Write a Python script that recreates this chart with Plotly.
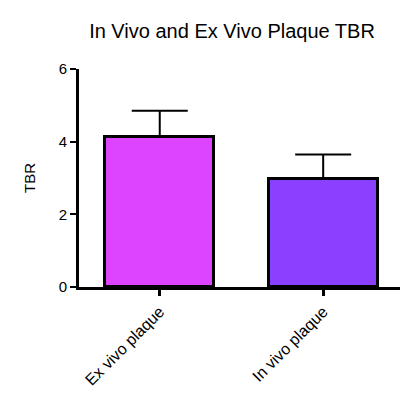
import plotly.graph_objects as go

categories = ["Ex vivo plaque", "In vivo plaque"]
means = [4.13, 2.97]
errors = [0.72, 0.68]
bar_colors = ["#DD44FF", "#8B3FFF"]
y_ticks = [0, 2, 4, 6]

fig = go.Figure()
fig.add_trace(go.Bar(
    x=[0, 1], y=means,
    width=0.665,
    marker=dict(color=bar_colors, line=dict(color="black", width=3)),
    error_y=dict(type="data", array=errors, arrayminus=[0, 0], symmetric=False,
                 color="black", thickness=2, width=28),
))

fig.update_layout(
    width=412, height=386,
    margin=dict(l=71, r=20, t=61, b=107),
    plot_bgcolor="white", paper_bgcolor="white",
    font=dict(family="Liberation Sans, Arial, sans-serif", color="black", size=15),
    title=dict(text="In Vivo and Ex Vivo Plaque TBR", x=224/412, xanchor="center",
               y=1 - 23/386, yanchor="middle", font=dict(size=20)),
    showlegend=False,
    bargap=0,
)
fig.update_xaxes(
    range=[-0.494, 1.47],
    tickvals=[0, 1], ticktext=categories, tickangle=-45,
    showline=True, linecolor="black", linewidth=3,
    ticks="outside", ticklen=6, tickwidth=3, tickcolor="black",
    showgrid=False, zeroline=False, automargin=False,
    tickfont=dict(size=16),
)
fig.update_yaxes(
    range=[0, 6],
    tickvals=y_ticks,
    showline=True, linecolor="black", linewidth=3,
    ticks="outside", ticklen=6, tickwidth=2, tickcolor="black",
    showgrid=False, zeroline=False, automargin=False,
    title=dict(text="TBR", font=dict(size=15), standoff=20),
    tickfont=dict(size=15),
)

fig.write_html("out.html")
